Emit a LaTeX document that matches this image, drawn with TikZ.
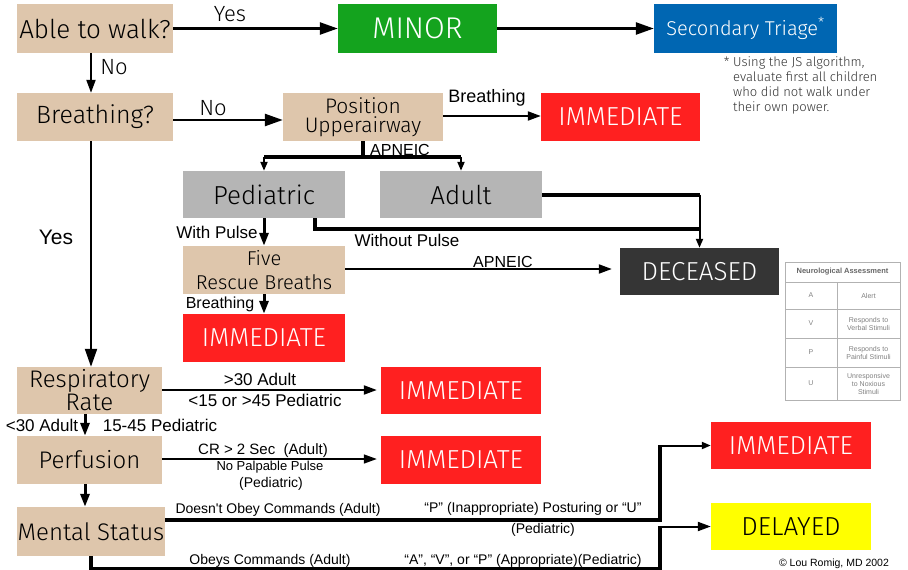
\documentclass[tikz,border=0pt]{standalone}
\usepackage{fontspec}
\setmainfont{Fira Sans Light}
\newfontfamily\labelfont{Liberation Sans}
\usetikzlibrary{arrows.meta}

\definecolor{tan}{RGB}{222,198,172}
\definecolor{minorgreen}{RGB}{20,163,30}
\definecolor{triageblue}{RGB}{0,102,178}
\definecolor{immred}{RGB}{255,32,32}
\definecolor{boxgray}{RGB}{181,181,181}
\definecolor{deadgray}{RGB}{53,53,53}
\definecolor{delayyellow}{RGB}{255,255,0}

\tikzset{
  box/.style={rectangle, inner sep=0pt, align=center, minimum width=160, minimum height=48,
    font=\fontsize{26}{28}\selectfont},
  tanbox/.style={box, fill=tan, text=black},
  graybox/.style={box, fill=boxgray, text=black},
  immbox/.style={box, fill=immred, text=white},
  lbl/.style={inner sep=0pt, font=\labelfont\fontsize{17}{19}\selectfont},
  smalllbl/.style={inner sep=0pt, font=\labelfont\fontsize{14}{16}\selectfont},
  tag/.style={inner sep=0pt, font=\fontsize{22}{24}\selectfont},
  bigtip/.style={-{Triangle[length=18pt,width=12pt]}},
  midtip/.style={-{Triangle[length=13pt,width=9pt]}},
  smalltip/.style={-{Triangle[length=9pt,width=7pt]}},
  grid/.style={draw=black!30, line width=0.8pt},
  cell/.style={inner sep=0pt, align=center, text=black!50, font=\labelfont\fontsize{7}{8}\selectfont}
}

\begin{document}
\begin{tikzpicture}[x=1pt, y=-1pt]
    \useasboundingbox (0,0) rectangle (908,570);

    % Walking and breathing checks
    \node[tanbox, minimum width=156, minimum height=49] (walk) at (95,28.5) {Able to walk?};
    \node[box, fill=minorgreen, text=white, minimum width=159, minimum height=49,
        font=\fontsize{30}{32}\selectfont] (minor) at (417.5,28.5) {MINOR};
    \node[box, fill=triageblue, text=white, minimum width=183, minimum height=49,
        font=\fontsize{20}{22}\selectfont] (second) at (745.5,28.5) {Secondary Triage\textsuperscript{*}};
    \node[anchor=north west, inner sep=0pt, align=left, text=black!80,
        font=\fontsize{13}{15}\selectfont] (note) at (733,57)
        {\llap{* }Using the JS algorithm,\\evaluate first all children\\who did not walk under\\their own power.};

    \node[tanbox, minimum width=156, font=\fontsize{25}{27}\selectfont] (breath) at (95,117) {Breathing?};
    \node[tanbox, font=\fontsize{21}{19}\selectfont] (position) at (363,117) {Position\\Upperairway};
    \node[immbox, minimum width=159] (imm1) at (620.5,117) {IMMEDIATE};

    % Apneic branch
    \node[graybox, minimum width=162, minimum height=47] (ped) at (264,194.5) {Pediatric};
    \node[graybox, minimum width=162, minimum height=47] (adult) at (461,194.5) {Adult};
    \node[tanbox, minimum width=162, font=\fontsize{20}{24}\selectfont] (five) at (264,270) {Five\\Rescue Breaths};
    \node[box, fill=deadgray, text=white, minimum width=159, minimum height=47] (dead) at (699.5,271.5) {DECEASED};
    \node[immbox, minimum width=162] (imm2) at (264,338) {IMMEDIATE};

    % Breathing branch
    \node[tanbox, minimum width=145, minimum height=47, font=\fontsize{24}{23}\selectfont] (resp) at (89.5,390.5) {Respiratory\\Rate};
    \node[immbox, minimum height=47] (imm3) at (461,390.5) {IMMEDIATE};
    \node[tanbox, minimum width=145, font=\fontsize{24}{26}\selectfont] (perf) at (89.5,460) {Perfusion};
    \node[immbox] (imm4) at (461,460) {IMMEDIATE};
    \node[tanbox, minimum width=148, minimum height=49, font=\fontsize{24}{26}\selectfont] (mental) at (91,531.5) {Mental Status};
    \node[immbox, minimum height=47] (imm5) at (791,445.5) {IMMEDIATE};
    \node[box, fill=delayyellow, text=black, minimum height=47] (delayed) at (791,526.5) {DELAYED};

    % Neurological assessment table
    \draw[grid] (785,262) rectangle (900,400);
    \foreach \y in {282,309,338,367} {
        \draw[grid] (785,\y) -- (900,\y);
    }
    \draw[grid] (837,282) -- (837,400);
    \node[cell, text=black!60, font=\labelfont\bfseries\fontsize{7.5}{8}\selectfont] (neuro) at (842.5,272) {Neurological Assessment};
    \node[cell] (lvla) at (811,295.5) {A};
    \node[cell] (lvlv) at (811,323.5) {V};
    \node[cell] (lvlp) at (811,352.5) {P};
    \node[cell] (lvlu) at (811,383.5) {U};
    \node[cell] (alert) at (868.5,295.5) {Alert};
    \node[cell] (verbal) at (868.5,323.5) {Responds to\\Verbal Stimuli};
    \node[cell] (pain) at (868.5,352.5) {Responds to\\Painful Stimuli};
    \node[cell] (noxious) at (868.5,383.5) {Unresponsive\\to Noxious\\Stimuli};

    % Top connectors
    \draw[line width=2.5pt, bigtip] (walk) -- (minor);
    \draw[line width=2.5pt, bigtip] (minor) -- (second);
    \draw[line width=2pt, midtip] ([xshift=-4]walk.south) -- ([xshift=-4]breath.north);
    \draw[line width=2.5pt, bigtip] (breath.east |- 0,120) -- (position.west |- 0,120);
    \draw[line width=2pt, midtip] (position.east |- 0,116) -- (imm1.west |- 0,116);
    \node[tag] (yes1) at (230,14.5) {Yes};
    \node[tag] (no1) at (114,67) {No};
    \node[tag] (no2) at (213,108) {No};
    \node[lbl, font=\labelfont\fontsize{18}{20}\selectfont] (breathlbl) at (487,98) {Breathing};

    % Apneic split
    \coordinate (apneic) at (position.south |- 0,157);
    \draw[line width=4pt] (position.south) -- (apneic);
    \draw[line width=4pt] (ped.north |- apneic) -- (adult.north |- apneic);
    \draw[line width=2pt, smalltip] (ped.north |- apneic) -- (ped.north);
    \draw[line width=2pt, smalltip] (adult.north |- apneic) -- (adult.north);
    \node[lbl, font=\labelfont\fontsize{16}{18}\selectfont] (apn1) at (400,150) {APNEIC};

    % Routes to deceased
    \coordinate (adultjoin) at (adult.east -| dead.north);
    \coordinate (pulseless) at ([xshift=51]ped.south);
    \coordinate (pedjoin) at (dead.north |- 0,229);
    \draw[line width=4pt] (adult.east) -- (adultjoin);
    \draw[line width=4pt] (pulseless) |- (pedjoin);
    \draw[line width=2pt, smalltip] (adultjoin) -- (dead.north);
    \draw[line width=3pt, midtip] (ped.south) -- (five.north);
    \draw[line width=2pt, midtip] (five.east |- 0,269) -- ([xshift=-8]dead.west |- 0,269);
    \draw[line width=3pt, midtip] (five.south) -- (imm2.north);
    \node[lbl] (withpulse) at (217,232) {With Pulse};
    \node[lbl] (nopulse) at (407,240) {Without Pulse};
    \node[lbl, font=\labelfont\fontsize{16}{18}\selectfont] (apn2) at (503,262) {APNEIC};
    \node[lbl, font=\labelfont\fontsize{16}{18}\selectfont] (breathlbl2) at (220,304) {Breathing};

    % Breathing path
    \coordinate (yesdrop) at ([xshift=-4]breath.south);
    \draw[line width=2pt, bigtip] (yesdrop) -- (yesdrop |- resp.north);
    \node[lbl, font=\labelfont\fontsize{21}{23}\selectfont] (yes2) at (56,237) {Yes};
    \draw[line width=2pt, midtip] (resp.east |- 0,390) -- ([xshift=-4]imm3.west |- 0,390);
    \node[lbl] (over30) at (260,379) {>30 Adult};
    \node[lbl] (ped1545) at (265,400) {<15 or >45 Pediatric};
    \draw[line width=3pt, midtip] ([xshift=-4.5]resp.south) -- ([xshift=-4.5]perf.north);
    \node[lbl] (under30) at (42,425) {<30 Adult};
    \node[lbl] (pedok) at (160,425) {15-45 Pediatric};
    \draw[line width=1.5pt, midtip] (perf.east |- 0,459) -- ([xshift=-4]imm4.west |- 0,459);
    \node[lbl, font=\labelfont\fontsize{15}{17}\selectfont] (crt) at (263,451) {CR > 2 Sec~~(Adult)};
    \node[smalllbl, font=\labelfont\fontsize{13}{15}\selectfont] (nopalp) at (270,467) {No Palpable Pulse};
    \node[smalllbl] (pedperf) at (271,484) {(Pediatric)};
    \coordinate (perfdrop) at ([xshift=-4.5]perf.south);
    \draw[line width=3pt, midtip] (perfdrop) -- (perfdrop |- mental.north);

    % Mental status
    \coordinate (mbend1) at (660,520);
    \coordinate (mbend2) at (mbend1 |- imm5.west);
    \coordinate (mdown) at (mental.south |- 0,569);
    \coordinate (mbend3) at (660,569);
    \coordinate (mbend4) at (mbend3 |- delayed.west);
    \draw[line width=3.5pt] (mental.east |- mbend1) -- (mbend1) -- (mbend2);
    \draw[line width=2pt, smalltip] ([xshift=-1.75]mbend2) -- (imm5.west);
    \draw[line width=3.5pt] (mental.south) -- (mdown) -- (mbend3) -- (mbend4);
    \draw[line width=2pt, midtip] ([xshift=-1.75]mbend4) -- (delayed.west);
    \node[smalllbl] (noobey) at (278,510) {Doesn't Obey Commands (Adult)};
    \node[smalllbl] (pu) at (533,509) {“P” (Inappropriate) Posturing or “U”};
    \node[smalllbl] (pedms1) at (543,530) {(Pediatric)};
    \node[smalllbl] (obey) at (270,561) {Obeys Commands (Adult)};
    \node[smalllbl] (avp) at (523,561) {“A”, “V”, or “P” (Appropriate)(Pediatric)};

    \node[inner sep=0pt, font=\labelfont\fontsize{10.5}{12}\selectfont] (credit) at (834,564) {© Lou Romig, MD 2002};
\end{tikzpicture}
\end{document}
